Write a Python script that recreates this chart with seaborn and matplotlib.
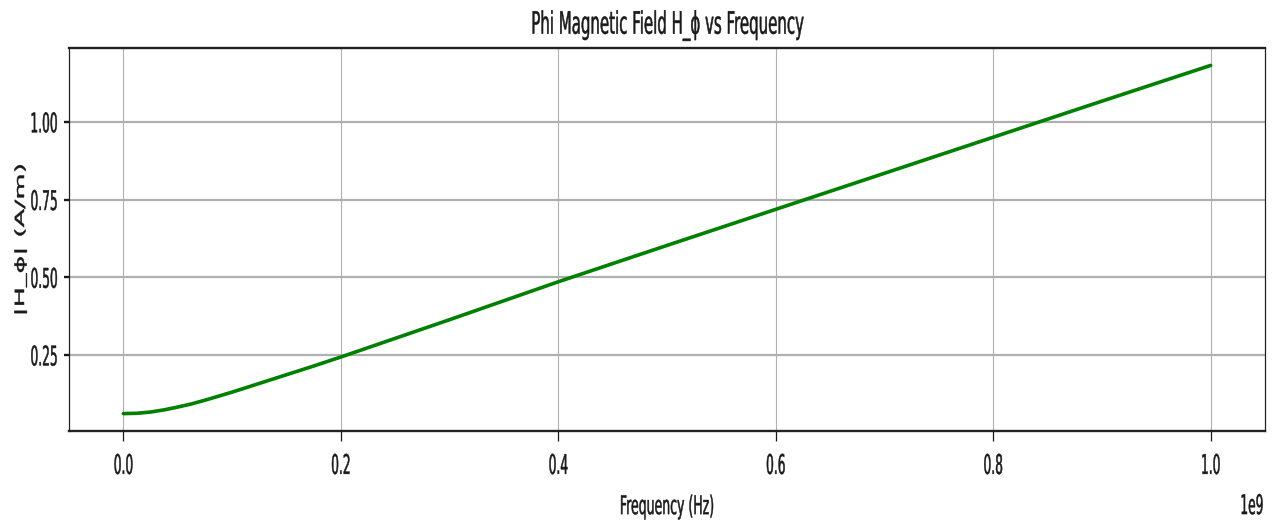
import numpy as np
import pandas as pd
import seaborn as sns
import matplotlib
matplotlib.use("Agg")
import matplotlib.pyplot as plt
from matplotlib.patheffects import AbstractPathEffect
from matplotlib.transforms import Affine2D

# ---- data ----
freq_hz = [0.0, 0.0125e9, 0.025e9, 0.0375e9, 0.05e9, 0.0625e9, 0.075e9, 0.0875e9,
           0.10e9, 0.125e9, 0.15e9, 0.175e9, 0.20e9, 0.30e9, 0.40e9, 0.50e9,
           0.60e9, 0.70e9, 0.80e9, 0.90e9, 1.00e9]
h_phi = [0.062, 0.063, 0.067, 0.074, 0.083, 0.093, 0.105, 0.118,
         0.131, 0.159, 0.187, 0.215, 0.244, 0.364, 0.486, 0.603,
         0.719, 0.835, 0.951, 1.067, 1.182]
x_ticks = [0.0, 0.2e9, 0.4e9, 0.6e9, 0.8e9, 1.0e9]
y_ticks = [0.25, 0.50, 0.75, 1.00]

title_text = "Phi Magnetic Field H_ϕ vs Frequency"
x_label = "Frequency (Hz)"
y_label = "|H_ϕ| (A/m)"


class Stretch(AbstractPathEffect):
    """Draw text glyphs stretched about their own centre (text stays real text)."""
    def __init__(self, sx=1.0, sy=1.0, dx=0.0, dy=0.0, stroke=0.35):
        super().__init__()
        self.sx, self.sy, self.dx, self.dy, self.stroke = sx, sy, dx, dy, stroke

    def draw_path(self, renderer, gc, tpath, affine, rgbFace=None):
        ext = tpath.get_extents(affine)
        cx, cy = (ext.x0 + ext.x1) / 2, (ext.y0 + ext.y1) / 2
        aff = affine + Affine2D().translate(-cx, -cy).scale(self.sx, self.sy) \
            .translate(cx + self.dx, cy + self.dy)
        gc0 = renderer.new_gc()
        gc0.copy_properties(gc)
        if rgbFace is not None and self.stroke > 0:
            gc0.set_foreground(rgbFace)
            gc0.set_linewidth(self.stroke)
        else:
            gc0.set_linewidth(0)
        renderer.draw_path(gc0, tpath, aff, rgbFace)
        gc0.restore()


sns.set_style("white")
plt.rcParams["font.family"] = ["DejaVu Sans"]
TXT = "#1a1a1a"

df = pd.DataFrame({"freq": freq_hz, "h": h_phi})

fig = plt.figure(figsize=(12.76, 5.22), dpi=100)
fig.patch.set_facecolor("white")
W, H = 1276, 522
ax = fig.add_axes([69 / W, 1 - 431 / H, (1265 - 69) / W, (431 - 48) / H])

sns.lineplot(data=df, x="freq", y="h", color="green", linewidth=2.6, ax=ax,
             legend=False)

ax.set_xticks(x_ticks)
ax.set_yticks(y_ticks)

ax.grid(axis="x", color="#b0b0b0", linewidth=0.8)
ax.grid(axis="y", color="#b0b0b0", linewidth=1.6)
ax.set_axisbelow(True)

for side in ["top", "bottom"]:
    ax.spines[side].set_linewidth(1.7)
    ax.spines[side].set_color("#222222")
for side in ["left", "right"]:
    ax.spines[side].set_linewidth(0.9)
    ax.spines[side].set_color("#222222")

ax.tick_params(axis="x", length=7, width=0.9, pad=12.5, labelsize=10,
               colors=TXT, bottom=True)
ax.tick_params(axis="y", length=3.5, width=1.7, pad=3.5, labelsize=10,
               colors=TXT, left=True)

ax.set_xlabel(x_label, fontsize=10, labelpad=20, color=TXT)
ax.set_ylabel(y_label, fontsize=10, labelpad=0.5, color=TXT)
ax.set_title(title_text, fontsize=12, pad=13, color=TXT)

tick_fx = [Stretch(0.88, 1.95)]
for t in ax.xaxis.get_major_ticks():
    t.label1.set_path_effects(tick_fx)
for t in ax.yaxis.get_major_ticks():
    t.label1.set_path_effects(tick_fx)
ax.xaxis.label.set_path_effects([Stretch(0.9, 1.85)])
ax.yaxis.label.set_path_effects([Stretch(0.9, 1.95)])
ax.title.set_path_effects([Stretch(0.9, 1.85)])
ax.xaxis.get_offset_text().set_path_effects([Stretch(0.88, 1.95, dy=-22)])
ax.xaxis.get_offset_text().set_color(TXT)

fig.savefig("out.png", dpi=100, facecolor="white")
